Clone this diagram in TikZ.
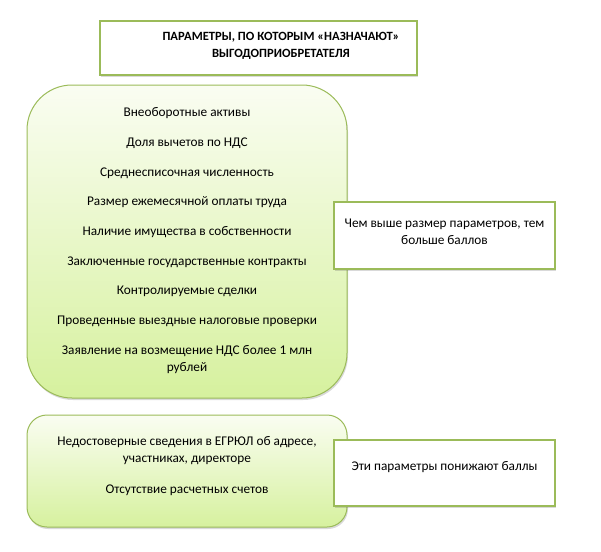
\documentclass[tikz,border=0pt]{standalone}
\usepackage{fontspec}
\setmainfont{Carlito}
\usetikzlibrary{shadows}
\definecolor{olive}{RGB}{155,187,89}
\definecolor{topgreen}{RGB}{250,253,242}
\definecolor{botgreen}{RGB}{214,241,158}
\begin{document}
\begin{tikzpicture}[x=1pt,y=-1pt,
  font=\fontsize{13.3}{17}\selectfont,
  shadowed/.style={drop shadow={shadow xshift=1pt,shadow yshift=-2pt,opacity=0.25,fill=black!60}},
  titlebox/.style={draw=olive,line width=2.5pt,fill=white,shadowed,minimum width=317pt,minimum height=54pt,inner sep=0pt},
  greenbox/.style={draw=olive,line width=1pt,top color=topgreen,bottom color=botgreen,shadowed,inner sep=0pt},
  notebox/.style={draw=olive,line width=2.5pt,fill=white,shadowed,minimum width=221pt,inner sep=0pt,align=center},
  item/.style={inner sep=0pt,align=center}]
\useasboundingbox (0,0) rectangle (601,551);
\node[titlebox] (title) at (258.5,48) {};
\node[item,font=\fontsize{12.6}{17}\selectfont\bfseries] (titletext) at (281,46) {ПАРАМЕТРЫ, ПО КОТОРЫМ «НАЗНАЧАЮТ»\\ВЫГОДОПРИОБРЕТАТЕЛЯ};
\node[greenbox,minimum width=320pt,minimum height=313pt,rounded corners=45pt] (big) at (187,241.5) {};
\node[greenbox,minimum width=320pt,minimum height=112pt,rounded corners=20pt] (small) at (187,471) {};
\node[item] (i1) at (187,113) {Внеоборотные активы};
\node[item] (i2) at (187,143) {Доля вычетов по НДС};
\node[item] (i3) at (187,173) {Среднесписочная численность};
\node[item] (i4) at (187,202) {Размер ежемесячной оплаты труда};
\node[item] (i5) at (187,232) {Наличие имущества в собственности};
\node[item] (i6) at (187,262) {Заключенные государственные контракты};
\node[item] (i7) at (187,291) {Контролируемые сделки};
\node[item] (i8) at (187,321) {Проведенные выездные налоговые проверки};
\node[item] (i9) at (187,359.5) {Заявление на возмещение НДС более 1 млн\\рублей};
\node[item] (j1) at (187,451) {Недостоверные сведения в ЕГРЮЛ об адресе,\\участниках, директоре};
\node[item] (j2) at (187,490) {Отсутствие расчетных счетов};
\node[notebox,minimum height=67pt] (n1) at (444.5,235.5) {};
\node[item] (n1t) at (444.5,231.5) {Чем выше размер параметров, тем\\больше баллов};
\node[notebox,minimum height=66pt] (n2) at (444.5,473) {};
\node[item] (n2t) at (444.5,467) {Эти параметры понижают баллы};
\end{tikzpicture}
\end{document}
